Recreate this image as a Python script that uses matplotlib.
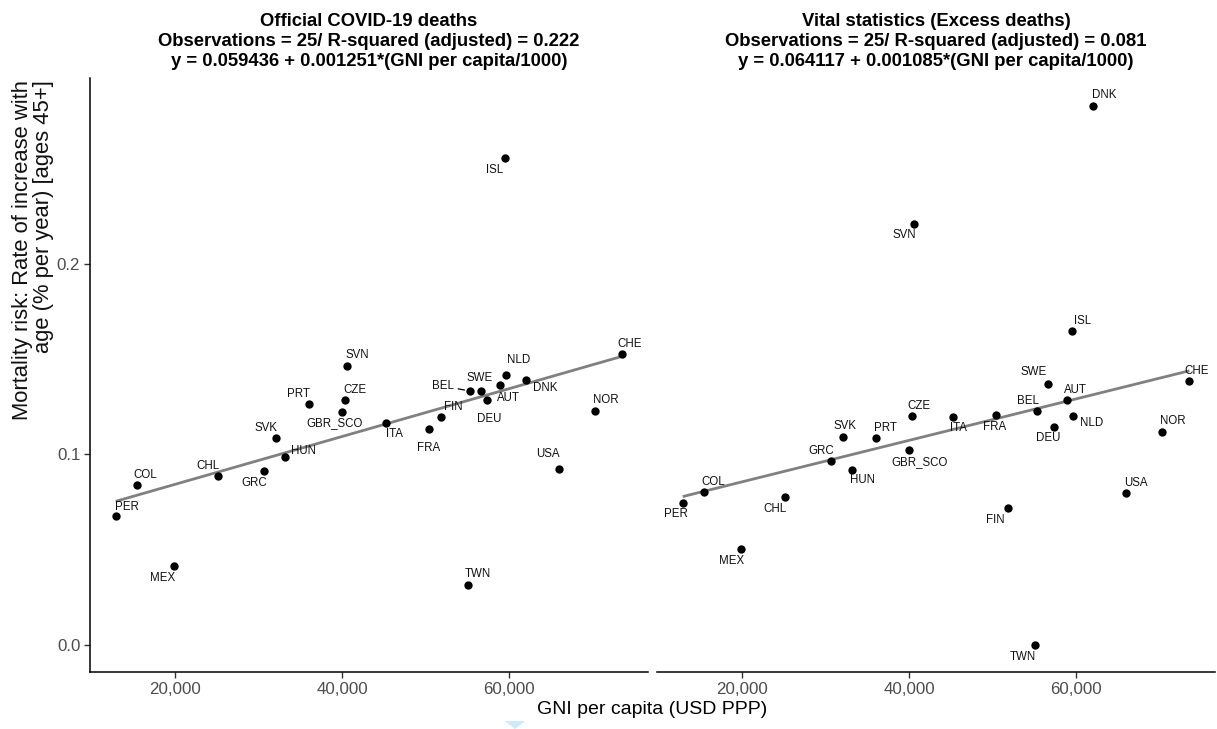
import numpy as np
import matplotlib
matplotlib.use("Agg")
import matplotlib.pyplot as plt
from matplotlib.patches import Polygon

plt.rcParams['font.family'] = ['Liberation Sans', 'DejaVu Sans']

# ---------------- data ----------------
countries = ["PER", "COL", "MEX", "CHL", "GRC", "SVK", "HUN", "PRT", "GBR_SCO", "CZE",
             "SVN", "ITA", "FRA", "FIN", "BEL", "TWN", "DEU", "SWE", "AUT", "ISL",
             "NLD", "DNK", "USA", "NOR", "CHE"]
gni = [12900, 15400, 19900, 25100, 30650, 32080, 33140, 36050, 40050, 40380,
       40540, 45250, 50420, 51820, 55330, 55090, 57400, 56670, 58920, 59560,
       59680, 62080, 66030, 70260, 73580]
official = [0.0677, 0.0838, 0.0413, 0.0887, 0.0915, 0.1087, 0.0988, 0.1267, 0.1223, 0.1286,
            0.1466, 0.1167, 0.1136, 0.1197, 0.1333, 0.0315, 0.1286, 0.1333, 0.1363, 0.2558,
            0.1417, 0.1389, 0.0922, 0.1227, 0.1526]
excess = [0.0745, 0.0805, 0.0506, 0.0779, 0.0966, 0.1090, 0.0917, 0.1085, 0.1022, 0.1202,
          0.2212, 0.1197, 0.1206, 0.0719, 0.1228, 0.0000, 0.1146, 0.1369, 0.1288, 0.1647,
          0.1202, 0.2831, 0.0796, 0.1118, 0.1387]

titles = [
    "Official COVID-19 deaths\nObservations = 25/ R-squared (adjusted) = 0.222\ny = 0.059436 + 0.001251*(GNI per capita/1000)",
    "Vital statistics (Excess deaths)\nObservations = 25/ R-squared (adjusted) = 0.081\ny = 0.064117 + 0.001085*(GNI per capita/1000)",
]
x_ticks = [20000, 40000, 60000]
y_ticks = [0.0, 0.1, 0.2]
x_label = "GNI per capita (USD PPP)"
y_label = "Mortality risk: Rate of increase with\nage (% per year) [ages 45+]"

# label offsets (pixels, x right / y down) -- layout only
off_left = {"PER": (11, -9), "COL": (9, -10), "MEX": (-12, 12), "CHL": (-10, -10),
            "GRC": (-10, 12), "SVK": (-10, -10), "HUN": (19, -6), "PRT": (-11, -10),
            "GBR_SCO": (-8, 11), "CZE": (10, -10), "SVN": (11, -11), "ITA": (9, 11),
            "FRA": (0, 19), "FIN": (13, -10), "BEL": (-27, -5), "TWN": (10, -11),
            "DEU": (2, 19), "SWE": (-2, -13), "AUT": (8, 13), "ISL": (-11, 12),
            "NLD": (12, -15), "DNK": (19, 8), "USA": (-11, -15), "NOR": (11, -11),
            "CHE": (7, -10)}
off_right = {"PER": (-7, 11), "COL": (10, -10), "MEX": (-10, 12), "CHL": (-10, 12),
             "GRC": (-10, -10), "SVK": (2, -11), "HUN": (11, 10), "PRT": (9, -10),
             "GBR_SCO": (10, 12), "CZE": (7, -10), "SVN": (-9, 11), "ITA": (6, 11),
             "FRA": (-1, 12), "FIN": (-12, 12), "BEL": (-9, -10), "TWN": (-12, 12),
             "DEU": (-6, 11), "SWE": (-15, -12), "AUT": (8, -10), "ISL": (10, -10),
             "NLD": (18, 7), "DNK": (11, -11), "USA": (10, -10), "NOR": (11, -11),
             "CHE": (7, -10)}
segments_left = {"BEL"}

# ---------------- figure ----------------
W, H = 1217, 729
fig = plt.figure(figsize=(W / 100, H / 100), dpi=100)
fig.patch.set_facecolor("white")

def fx(px):
    return px / W

def fy(py):
    return 1 - py / H

ax_top, ax_bot = 78, 672
panels = [(90, 648), (657, 1215)]
xlim = (9820, 76647)
ylim = (-0.01417, 0.2976)

series = [official, excess]
offsets = [off_left, off_right]

for i, (l, r) in enumerate(panels):
    ax = fig.add_axes([fx(l), fy(ax_bot), (r - l) / W, (ax_bot - ax_top) / H])
    ax.set_xlim(*xlim)
    ax.set_ylim(*ylim)
    vals = np.array(series[i])
    g = np.array(gni, dtype=float)

    # regression line
    b1, b0 = np.polyfit(g / 1000, vals, 1)
    xs = np.array([g.min(), g.max()])
    ax.plot(xs, b0 + b1 * xs / 1000, color="#808080", lw=2.0, zorder=2,
            solid_capstyle="butt")

    ax.scatter(g, vals, s=36, color="black", zorder=3, linewidths=0)

    for c, xv, yv in zip(countries, g, vals):
        dx, dy = offsets[i][c]
        kw = {}
        if i == 0 and c in segments_left:
            kw["arrowprops"] = dict(arrowstyle="-", color="black", lw=0.9,
                                    shrinkA=1, shrinkB=4)
        ax.annotate(c, xy=(xv, yv), xytext=(dx * 0.72, -dy * 0.72),
                    textcoords="offset points", ha="center", va="center",
                    fontsize=8.3, color="#111111", zorder=4, **kw)

    for s in ["top", "right"]:
        ax.spines[s].set_visible(False)
    ax.spines["bottom"].set_linewidth(1.1)
    ax.spines["left"].set_linewidth(1.1)
    ax.set_xticks(x_ticks)
    ax.set_xticklabels([f"{t:,}" for t in x_ticks])
    ax.tick_params(axis="x", length=4, width=1.0, pad=3, labelsize=12.2,
                   labelcolor="#4D4D4D", color="#333333")
    if i == 0:
        ax.set_yticks(y_ticks)
        ax.set_yticklabels([f"{t:.1f}" for t in y_ticks])
        ax.tick_params(axis="y", length=4, width=1.0, pad=3, labelsize=12.2,
                       labelcolor="#4D4D4D", color="#333333")
    else:
        ax.spines["left"].set_visible(False)
        ax.set_yticks([])

    fig.text(fx((l + r) / 2), fy(41.5), titles[i], ha="center", va="center",
             fontsize=13.3, fontweight="bold", linespacing=1.2, color="black")

fig.text(fx(652), fy(710), x_label, ha="center", va="center", fontsize=14,
         color="black")
fig.text(fx(33.5), fy(80), y_label, ha="center", va="top", rotation=90,
         fontsize=15.8, color="#111111", multialignment="right", linespacing=1.0)

# small light-blue marker at the bottom edge of the reference image
tri = Polygon([(fx(505), fy(721)), (fx(525), fy(721)), (fx(515), fy(729))],
              closed=True, transform=fig.transFigure, facecolor="#cde9fb",
              edgecolor="none")
fig.patches.append(tri)

fig.savefig("out.png", dpi=100, facecolor="white")
